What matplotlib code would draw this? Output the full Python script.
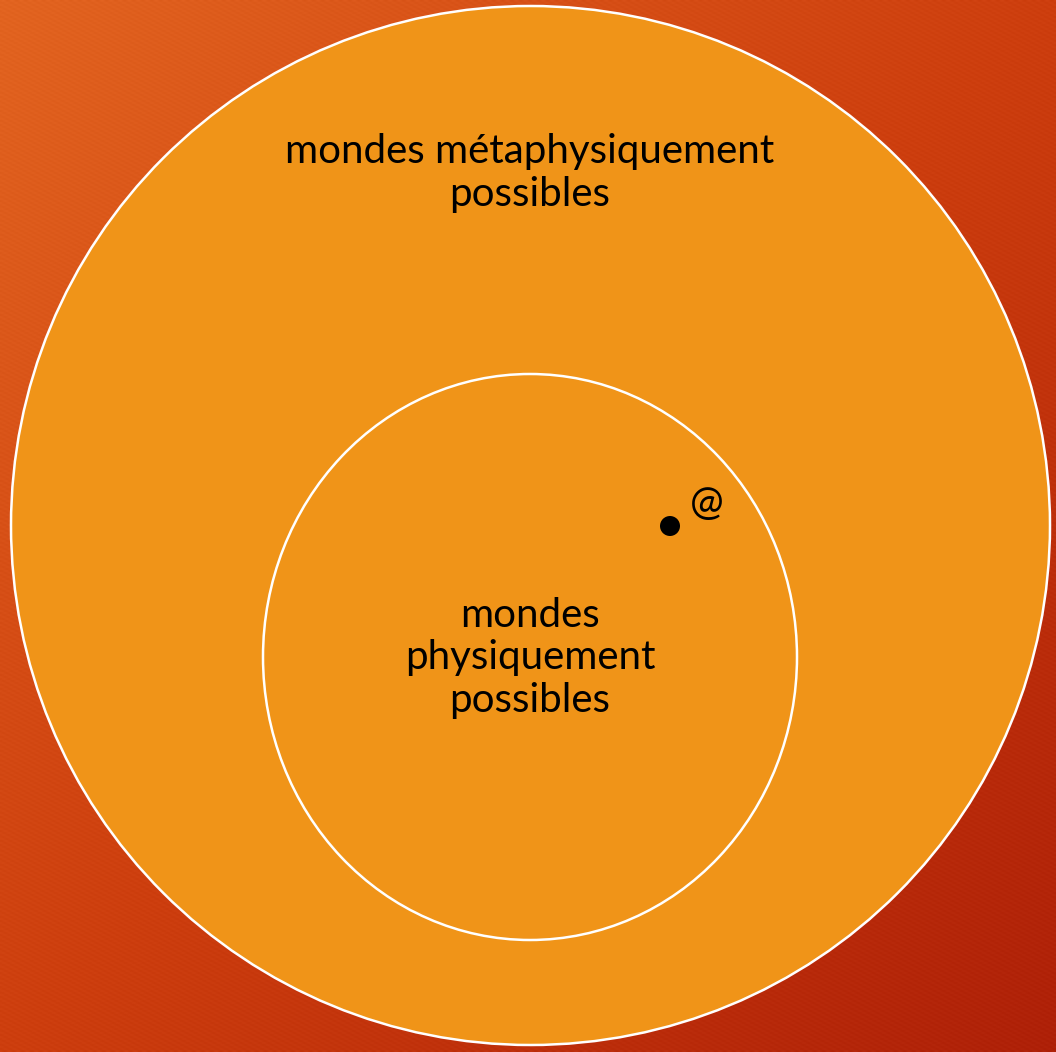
import numpy as np
import matplotlib
matplotlib.use("Agg")
import matplotlib.pyplot as plt
from matplotlib.patches import Ellipse, Circle

# --- content ---
outer_label = ["mondes métaphysiquement", "possibles"]
inner_label = ["mondes", "physiquement", "possibles"]
actual_world_label = "@"

W, H = 1056, 1052
fig = plt.figure(figsize=(W / 100, H / 100), dpi=100)
ax = fig.add_axes([0, 0, 1, 1])
ax.set_xlim(0, W)
ax.set_ylim(H, 0)
ax.axis("off")

# background diagonal gradient
yy, xx = np.mgrid[0:H:2, 0:W:2]
t = (xx / W + yy / H) / 2.0
c0 = np.array([226, 100, 32]) / 255.0
c1 = np.array([205, 62, 14]) / 255.0
c2 = np.array([174, 32, 8]) / 255.0
t3 = t[..., None]
img = np.where(t3 < 0.5, c0 + (c1 - c0) * (t3 / 0.5), c1 + (c2 - c1) * ((t3 - 0.5) / 0.5))
stripes = 0.015 * np.sin((xx - yy * 1.9) * 2 * np.pi / 9.0)
img = np.clip(img + stripes[..., None], 0, 1)
ax.imshow(img, extent=[0, W, H, 0], zorder=0, interpolation="bilinear")

fill = "#F09418"
outer = Ellipse((530.5, 525.5), 1039, 1039, facecolor=fill, edgecolor="white", lw=1.8, zorder=1)
inner = Ellipse((530, 657), 534, 566, facecolor=fill, edgecolor="white", lw=1.8, zorder=2)
ax.add_patch(outer)
ax.add_patch(inner)

ax.add_patch(Circle((670, 526), 10, facecolor="black", edgecolor="none", zorder=3))

fam = ["Lato", "DejaVu Sans"]
fs = 29
ax.text(530, 173, "\n".join(outer_label), ha="center", va="center", fontsize=fs,
        family=fam, color="black", linespacing=1.17, zorder=4)
ax.text(530, 658, "\n".join(inner_label), ha="center", va="center", fontsize=fs,
        family=fam, color="black", linespacing=1.17, zorder=4)
ax.text(707, 504, actual_world_label, ha="center", va="center", fontsize=fs,
        family=fam, color="black", zorder=4)

fig.savefig("out.png", dpi=100)
